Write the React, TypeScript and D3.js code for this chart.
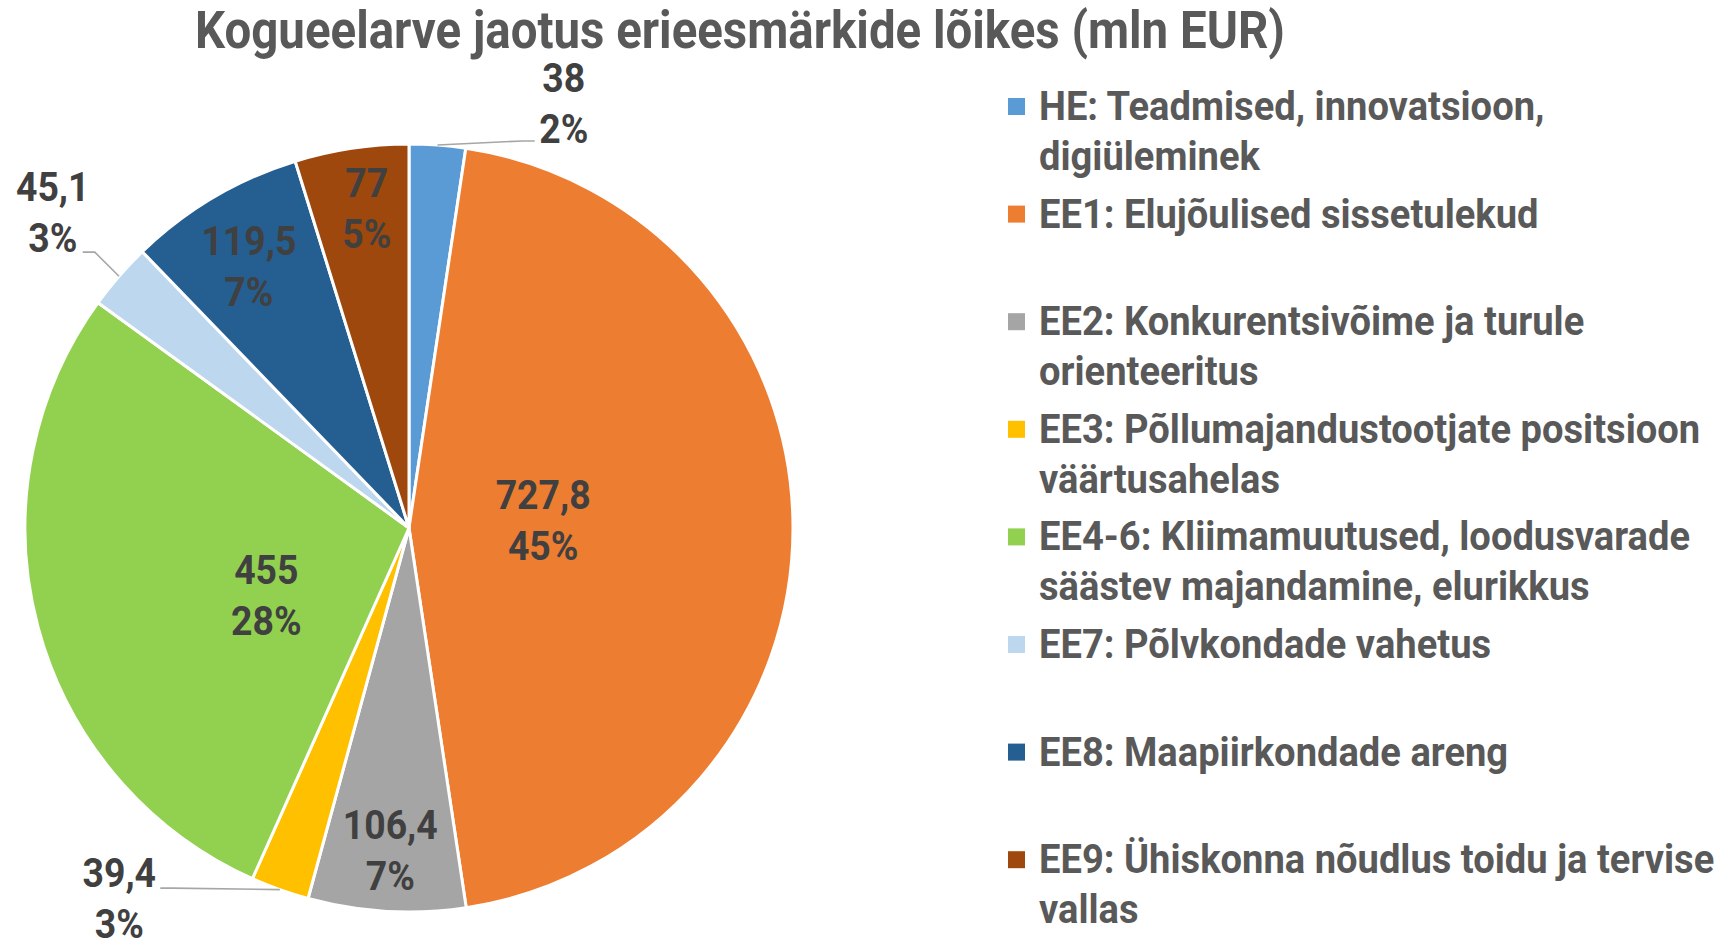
import React, { useLayoutEffect, useRef, useState } from "react";
import * as d3 from "d3";

const title = "Kogueelarve jaotus erieesmärkide lõikes (mln EUR)";
const categories = [
  "HE: Teadmised, innovatsioon,\ndigiüleminek",
  "EE1: Elujõulised sissetulekud",
  "EE2: Konkurentsivõime ja turule\norienteeritus",
  "EE3: Põllumajandustootjate positsioon\nväärtusahelas",
  "EE4-6: Kliimamuutused, loodusvarade\nsäästev majandamine, elurikkus",
  "EE7: Põlvkondade vahetus",
  "EE8: Maapiirkondade areng",
  "EE9: Ühiskonna nõudlus toidu ja tervise\nvallas",
];
const values = [38, 727.8, 106.4, 39.4, 455, 45.1, 119.5, 77];
const valueLabels = ["38", "727,8", "106,4", "39,4", "455", "45,1", "119,5", "77"];
const percentLabels = ["2%", "45%", "7%", "3%", "28%", "3%", "7%", "5%"];
const colors = ["#5B9BD5", "#ED7D31", "#A5A5A5", "#FFC000", "#92D050", "#BDD7EE", "#255E91", "#9E480E"];

// label layout: angle offset from slice bisector (deg), radius factor, optional leader anchor offset from label centre
const labelLayout: { da: number; r: number; leader?: [number, number]; elbow?: number }[] = [
  { da: 15.75, r: 1.178, leader: [-29, 38], elbow: -12 },
  { da: -3.4, r: 0.35 },
  { da: 0, r: 0.84 },
  { da: 18.4, r: 1.224, leader: [41, -10], elbow: 12 },
  { da: -10, r: 0.41 },
  { da: 0.6, r: 1.24, leader: [30, 40], elbow: 12 },
  { da: -0.8, r: 0.8 },
  { da: 1.1, r: 0.84 },
];

const W = 1733;
const H = 941;
const CX = 409;
const CY = 528;
const R = 384;
const TITLE_X = 195;
const TITLE_WIDTH = 1090;
const FONT = "Roboto, 'Noto Sans', sans-serif";

export default function App() {
  const titleRef = useRef<SVGTextElement>(null);
  const [sx, setSx] = useState(0.86);

  useLayoutEffect(() => {
    if (titleRef.current) {
      const w = titleRef.current.getComputedTextLength();
      if (w > 0) setSx(TITLE_WIDTH / w);
    }
  }, []);

  const pie = d3
    .pie<number>()
    .sort(null)
    .value((d) => d)
    .startAngle(0)
    .endAngle(2 * Math.PI);
  const arcs = pie(values);
  const arc = d3.arc<d3.PieArcDatum<number>>().innerRadius(0).outerRadius(R);

  const pt = (a: number, r: number): [number, number] => [CX + r * Math.sin(a), CY - r * Math.cos(a)];

  const labelFont = 41;
  const legendFont = 41;
  const legendSx = sx * 1.02;
  const legendX = 1039;
  const legendY0 = 120;
  const legendStep = 107.6;
  const legendLine = 50;

  return (
    <svg
      width={W}
      height={H}
      style={{ position: "absolute", left: 0, top: 0, background: "#fff" }}
      fontFamily={FONT}
      fontWeight={700}
    >
      <rect x={0} y={0} width={W} height={H} fill="#fff" />
      <g transform={`translate(${TITLE_X},48) scale(${sx},1)`}>
        <text ref={titleRef} fontSize={52} fill="#595959">
          {title}
        </text>
      </g>

      <g transform={`translate(${CX},${CY})`}>
        {arcs.map((a, i) => (
          <path key={i} d={arc(a) || ""} fill={colors[i]} stroke="#fff" strokeWidth={3} strokeLinejoin="round" />
        ))}
      </g>

      {arcs.map((a, i) => {
        const L = labelLayout[i];
        const mid = (a.startAngle + a.endAngle) / 2;
        const ang = mid + (L.da * Math.PI) / 180;
        const [lx, ly] = pt(ang, L.r * R);
        let leader = null;
        if (L.leader) {
          const [ex, ey] = pt(mid, R);
          const ax = lx + L.leader[0];
          const ay = ly + L.leader[1];
          const bx = ax + (L.elbow || 0);
          leader = (
            <polyline
              points={`${ex},${ey} ${bx},${ay} ${ax},${ay}`}
              fill="none"
              stroke="#A6A6A6"
              strokeWidth={1.6}
            />
          );
        }
        return (
          <g key={i}>
            {leader}
            <g transform={`translate(${lx},${ly - 11}) scale(${sx},1)`}>
              <text textAnchor="middle" fontSize={labelFont} fill="#404040">
                {valueLabels[i]}
              </text>
            </g>
            <g transform={`translate(${lx},${ly + 40}) scale(${sx},1)`}>
              <text textAnchor="middle" fontSize={labelFont} fill="#404040">
                {percentLabels[i]}
              </text>
            </g>
          </g>
        );
      })}

      {categories.map((c, i) => {
        const by = legendY0 + i * legendStep;
        const lines = c.split("\n");
        return (
          <g key={i}>
            <rect x={1008} y={by - 22} width={17} height={17} fill={colors[i]} />
            {lines.map((ln, j) => (
              <g key={j} transform={`translate(${legendX},${by + j * legendLine}) scale(${legendSx},1)`}>
                <text fontSize={legendFont} fill="#595959">
                  {ln}
                </text>
              </g>
            ))}
          </g>
        );
      })}
    </svg>
  );
}
